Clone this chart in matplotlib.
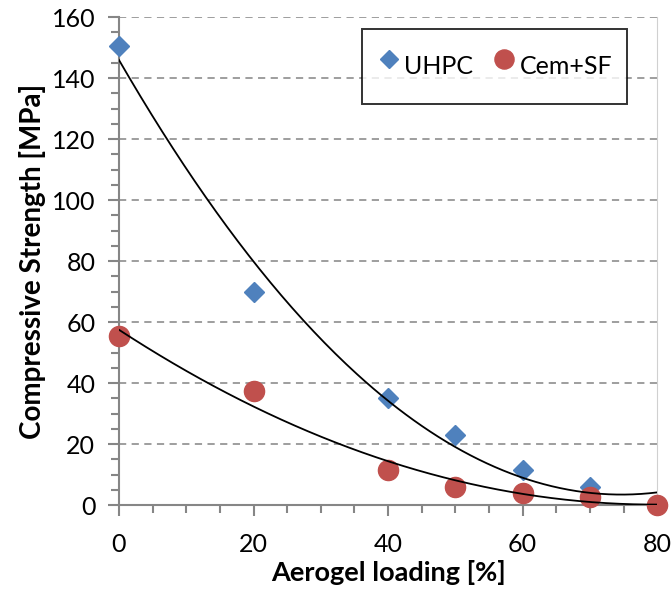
import matplotlib.pyplot as plt
import numpy as np

plt.rcParams['font.family'] = ['Lato', 'DejaVu Sans']

# dataset
loading_uhpc = [0, 20, 40, 50, 60, 70, 80]
strength_uhpc = [150.5, 70, 35, 23, 11.5, 6, 0]
loading_cem = [0, 20, 40, 50, 60, 70, 80]
strength_cem = [55.5, 37.5, 11.5, 6, 4, 2.5, 0]

fig = plt.figure(figsize=(6.72, 5.89), dpi=100)
ax = fig.add_axes([0.177, 0.1426, 0.801, 0.8285])

# 2nd order polynomial trendlines
xs = np.linspace(0, 80, 200)
p_uhpc = np.polyfit(loading_uhpc, strength_uhpc, 2)
p_cem = np.polyfit(loading_cem, strength_cem, 2)

ax.plot(loading_uhpc, strength_uhpc, 'D', color='#4F81BD', markersize=10,
        label='UHPC', zorder=3, clip_on=False)
ax.plot(loading_cem, strength_cem, 'o', color='#C0504D', markersize=14.5,
        label='Cem+SF', zorder=3, clip_on=False)
ax.plot(xs, np.polyval(p_uhpc, xs), color='black', lw=1.3, zorder=4)
ax.plot(xs, np.polyval(p_cem, xs), color='black', lw=1.3, zorder=4)

ax.set_xlim(0, 80)
ax.set_ylim(0, 160)
ax.set_xticks(np.arange(0, 81, 20))
ax.set_yticks(np.arange(0, 161, 20))
ax.set_xticks(np.arange(0, 81, 5), minor=True)
ax.set_yticks(np.arange(0, 161, 5), minor=True)

ax.yaxis.grid(True, which='major', ls=(0, (4, 3)), color='#969696', lw=1.3)
ax.set_axisbelow(True)

for s in ['left', 'bottom']:
    ax.spines[s].set_color('#868686')
    ax.spines[s].set_linewidth(1.5)
ax.spines['top'].set_visible(False)
ax.spines['right'].set_color('#d0d0d0')

ax.tick_params(axis='x', which='both', direction='out', color='#868686', width=1.5, pad=12)
ax.tick_params(axis='y', which='both', direction='out', color='#868686', width=1.5, pad=9)
ax.tick_params(which='major', length=8, labelsize=18)
ax.tick_params(which='minor', length=6)

ax.set_xlabel('Aerogel loading [%]', fontweight='bold', fontsize=19.5, labelpad=3)
ax.set_ylabel('Compressive Strength [MPa]', fontweight='bold', fontsize=20, labelpad=4)

leg = ax.legend(loc='upper right', bbox_to_anchor=(0.944, 0.975), ncol=2, fontsize=18,
                frameon=True, fancybox=False, handletextpad=0.1, columnspacing=0.75,
                borderpad=0.6, borderaxespad=0, handlelength=1.0, handleheight=2.4,
                markerscale=0.95)
leg.get_frame().set_edgecolor('black')
leg.get_frame().set_linewidth(1.4)

fig.savefig('out.png', dpi=100)
